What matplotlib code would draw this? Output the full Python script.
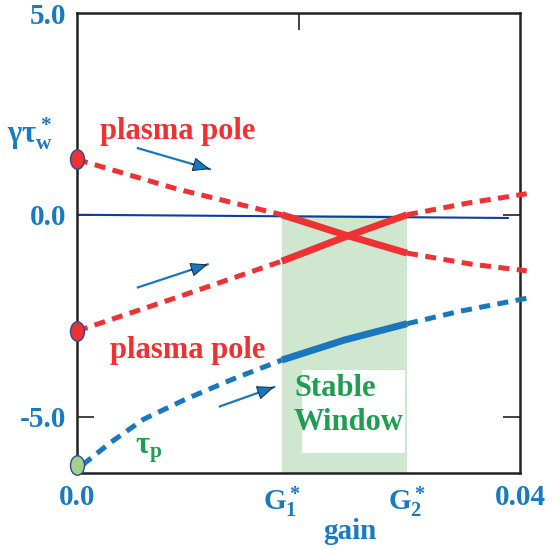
import numpy as np
import matplotlib
matplotlib.use("Agg")
import matplotlib.pyplot as plt
from matplotlib.path import Path
from matplotlib.transforms import Affine2D

plt.rcParams['font.family'] = 'Liberation Serif'
plt.rcParams['font.weight'] = 'bold'
plt.rcParams['mathtext.fontset'] = 'custom'
plt.rcParams['mathtext.rm'] = 'Liberation Serif:bold'
plt.rcParams['mathtext.it'] = 'Liberation Serif:bold'
plt.rcParams['mathtext.bf'] = 'Liberation Serif:bold'

# stable window limits
G1 = 0.0185
G2 = 0.0298

# upper plasma pole (starts at gamma*tau_w)
up_dash1_x = [0.0, 0.0090, G1]
up_dash1_y = [1.37, 0.64, 0.0]
up_solid_x = [G1, 0.0242, G2]
up_solid_y = [0.0, -0.50, -0.95]
up_dash2_x = [G2, 0.0355, 0.0406]
up_dash2_y = [-0.95, -1.22, -1.39]

# lower plasma pole
lo_dash1_x = [0.0, 0.0090, G1]
lo_dash1_y = [-2.88, -2.05, -1.15]
lo_solid_x = [G1, 0.0242, G2]
lo_solid_y = [-1.15, -0.55, 0.0]
lo_dash2_x = [G2, 0.0355, 0.0406]
lo_dash2_y = [0.0, 0.30, 0.52]

# tau_p branch
tp_dash1_x = [0.0005, 0.0030, 0.0060, 0.0099, 0.0141, G1]
tp_dash1_y = [-6.2, -5.65, -5.07, -4.56, -4.07, -3.6]
tp_solid_x = [G1, 0.0242, G2]
tp_solid_y = [-3.6, -3.1, -2.7]
tp_dash2_x = [G2, 0.0346, 0.0406]
tp_dash2_y = [-2.7, -2.39, -2.07]

# zero line
zero_x = [0.0, 0.0389]
zero_y = [0.0, -0.08]

xticks = [0.0, G1, G2, 0.04]
xticklabels = ['0.0', r'$\mathrm{G}_1^*$', r'$\mathrm{G}_2^*$', '0.04']
yticks = [-5.0, 0.0, 5.0]
yticklabels = ['-5.0', '0.0', '5.0']

red = '#ee3133'
blue = '#1a76bd'
tick_blue = '#1a7abf'
green_txt = '#1e9e50'

fig = plt.figure(figsize=(5.55, 5.49), dpi=100)
ax = fig.add_axes([77/555, 76/549, 443/555, 460/549])
ax.set_xlim(0, 0.04)
ax.set_ylim(-6.4, 5.0)

ax.fill_between([G1, G2], -6.4, 0, color='#cfe6cf', lw=0, zorder=1)

ax.plot(zero_x, zero_y, color='#0d3f96', lw=1.5, zorder=2)

dash = dict(lw=3.6, dashes=(2.2, 1.5), clip_on=False, zorder=3)
for xs, ys in [(up_dash1_x, up_dash1_y), (up_dash2_x, up_dash2_y),
               (lo_dash1_x, lo_dash1_y), (lo_dash2_x, lo_dash2_y)]:
    ax.plot(xs, ys, color=red, **dash)
ax.plot(up_solid_x, up_solid_y, color=red, lw=5, solid_capstyle='butt', zorder=4)
ax.plot(lo_solid_x, lo_solid_y, color=red, lw=5, solid_capstyle='butt', zorder=4)

ax.plot(tp_dash1_x, tp_dash1_y, color=blue, **dash)
ax.plot(tp_dash2_x, tp_dash2_y, color=blue, **dash)
ax.plot(tp_solid_x, tp_solid_y, color=blue, lw=5, solid_capstyle='butt', zorder=4)

# starting points (upright ellipses)
ellipse = Path.unit_circle().transformed(Affine2D().scale(0.72, 1.0))
for y0, c in [(1.37, red), (-2.88, red), (-6.2, '#a6cf88')]:
    ax.plot([0.0], [y0], marker=ellipse, ms=14, color=c, mec='#2a4a9a', mew=1,
            clip_on=False, zorder=6)

# arrows: blue shaft, blue head with dark outline
arrows = [((0.0055, 1.65), (0.0120, 1.13)),
          ((0.0055, -1.8), (0.0118, -1.23)),
          ((0.0129, -4.75), (0.0178, -4.27))]
for (x0, y0), (x1, y1) in arrows:
    ax.plot([x0, x1], [y0, y1], color=blue, lw=1.6, zorder=5)
    xm, ym = x0 + 0.75 * (x1 - x0), y0 + 0.75 * (y1 - y0)
    ax.annotate('', xy=(x1, y1), xytext=(xm, ym),
                arrowprops=dict(arrowstyle='-|>,head_length=1.1,head_width=0.45',
                                lw=0.7, ec='#1a2a40', fc=blue,
                                shrinkA=0, shrinkB=0), zorder=5)

ax.text(0.0021, 2.07, 'plasma pole', color=red, fontsize=22, fontweight='bold',
        va='center', ha='left')
ax.text(0.0030, -3.37, 'plasma pole', color=red, fontsize=22, fontweight='bold',
        va='center', ha='left')
ax.text(0.0052, -5.85, r'$\tau_\mathrm{p}$', color=green_txt, fontsize=22,
        va='center', ha='left')
ax.text(-0.0063, 2.0, r'$\gamma\tau_\mathrm{w}^*$', color=tick_blue, fontsize=22,
        va='center', ha='left', clip_on=False)

ax.add_patch(plt.Rectangle((0.0203, -5.9), 0.0093, 2.05, color='white', lw=0, zorder=2))
ax.text(0.0196, -4.3, 'Stable', color=green_txt, fontsize=22, fontweight='bold',
        va='center', ha='left', zorder=3)
ax.text(0.0196, -5.15, 'Window', color=green_txt, fontsize=22, fontweight='bold',
        va='center', ha='left', zorder=3)

ax.set_xticks(xticks)
ax.set_xticklabels(xticklabels, color=tick_blue, fontsize=21, fontweight='bold')
ax.set_yticks(yticks)
ax.set_yticklabels(yticklabels, color=tick_blue, fontsize=21, fontweight='bold')
ax.yaxis.set_ticks_position('both')
ax.xaxis.set_ticks_position('both')
ax.tick_params(axis='both', which='major', length=0, pad=8)
ax.yaxis.remove_overlapping_locs = False
ax.xaxis.remove_overlapping_locs = False
ax.set_xticks([0.02], minor=True)
ax.set_yticks([-5.0, 0.0], minor=True)
ax.tick_params(which='minor', direction='in', length=12, width=1.3,
               top=True, right=True, bottom=False, left=True, color='#333333')

ax.text(0.0246, -7.85, 'gain', color=tick_blue, fontsize=21, fontweight='bold',
        ha='center', va='center', clip_on=False)

for s in ax.spines.values():
    s.set_color('#222222')
    s.set_linewidth(1.8)
    s.set_zorder(2.5)

fig.savefig('out.png', dpi=100)
